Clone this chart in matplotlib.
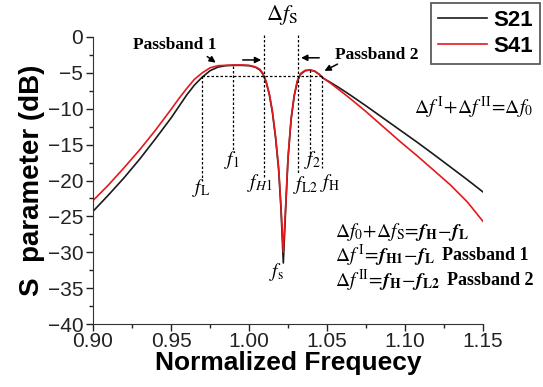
import numpy as np
import matplotlib.pyplot as plt

plt.rcParams['font.family'] = ['Liberation Sans', 'DejaVu Sans']
plt.rcParams['mathtext.fontset'] = 'stix'

# curves
freq_s21 = [0.900, 0.910, 0.920, 0.930, 0.940, 0.950, 0.955, 0.960, 0.965, 0.970,
            0.975, 0.980, 0.985, 0.990, 0.995, 1.000, 1.004, 1.007, 1.009, 1.011,
            1.013, 1.015, 1.017, 1.019, 1.0205, 1.022, 1.0235, 1.025, 1.027, 1.029,
            1.031, 1.033, 1.036, 1.039, 1.042, 1.045, 1.048, 1.052, 1.058, 1.065,
            1.075, 1.086, 1.097, 1.108, 1.118, 1.129, 1.140, 1.150]
s21 = [-24.3, -22.0, -19.6, -17.0, -14.2, -11.3, -9.7, -8.1, -6.7, -5.6,
       -4.7, -4.2, -4.0, -3.95, -3.95, -4.0, -4.2, -4.6, -5.2, -6.3,
       -8.0, -10.5, -14.0, -18.5, -24.0, -31.5, -24.0, -17.0, -11.5, -8.2,
       -6.2, -5.2, -4.7, -4.6, -4.75, -5.2, -5.8, -6.3, -7.1, -8.1,
       -9.6, -11.3, -13.0, -14.7, -16.3, -18.1, -19.9, -21.6]

freq_s41 = [0.900, 0.910, 0.920, 0.930, 0.940, 0.950, 0.955, 0.960, 0.965, 0.970,
            0.975, 0.980, 0.985, 0.990, 0.995, 1.000, 1.004, 1.007, 1.009, 1.011,
            1.013, 1.015, 1.017, 1.019, 1.0205, 1.022, 1.0235, 1.025, 1.027, 1.029,
            1.031, 1.033, 1.036, 1.039, 1.042, 1.045, 1.048, 1.052, 1.058, 1.065,
            1.075, 1.086, 1.097, 1.108, 1.118, 1.129, 1.140, 1.150]
s41 = [-22.8, -20.6, -18.2, -15.7, -13.0, -10.1, -8.6, -7.2, -5.9, -5.0,
       -4.3, -4.0, -3.95, -3.9, -3.9, -3.95, -4.15, -4.5, -5.1, -6.2,
       -7.9, -10.3, -13.8, -18.2, -23.5, -30.0, -23.5, -16.8, -11.3, -8.1,
       -6.1, -5.1, -4.65, -4.6, -4.75, -5.2, -5.8, -6.4, -7.4, -8.6,
       -10.4, -12.5, -14.6, -16.6, -18.5, -20.6, -23.0, -25.7]

# marked frequencies
f_L, f_1, f_H1, f_L2, f_2, f_H = 0.970, 0.990, 1.0096, 1.0316, 1.039, 1.047
level_3db = -5.5

fig = plt.figure(figsize=(5.43, 3.87), dpi=100)
ax = fig.add_axes([93/543, 1-324/387, 390/543, 287/387])

ax.plot(freq_s21, s21, color='#1a1a1a', lw=1.2, label='S21')
ax.plot(freq_s41, s41, color='#e3191c', lw=1.2, label='S41')

dash = dict(color='black', lw=0.9, ls=(0, (2, 1.6)))
ax.plot([f_L, f_H], [level_3db, level_3db], **dash)
ax.plot([f_L, f_L], [level_3db, -20.0], **dash)
ax.plot([f_1, f_1], [-4.0, -16.0], **dash)
ax.plot([f_H1, f_H1], [0.3, -19.5], clip_on=False, **dash)
ax.plot([f_L2, f_L2], [0.3, -19.0], clip_on=False, **dash)
ax.plot([f_2, f_2], [-4.6, -16.4], **dash)
ax.plot([f_H, f_H], [level_3db, -18.3], **dash)

ax.set_xlim(0.90, 1.15)
ax.set_ylim(-40, 0)
ax.set_xticks(np.arange(0.90, 1.151, 0.05))
ax.set_xticks(np.arange(0.925, 1.15, 0.05), minor=True)
ax.set_yticks(np.arange(-40, 1, 5))
ax.set_yticks(np.arange(-37.5, 0, 5), minor=True)
ax.set_xticklabels(['0.90', '0.95', '1.00', '1.05', '1.10', '1.15'])
ax.tick_params(which='major', length=5, width=1, labelsize=15, colors='#222222')
ax.tick_params(which='minor', length=3, width=1, colors='#222222')
ax.tick_params(axis='x', pad=1)
ax.tick_params(axis='y', pad=2)
for s in ['top', 'right']:
    ax.spines[s].set_visible(False)
for s in ['left', 'bottom']:
    ax.spines[s].set_color('#333333')

ax.set_xlabel('Normalized Frequecy', fontsize=19, fontweight='bold', labelpad=0)
ax.set_ylabel('S  parameter (dB)', fontsize=20, fontweight='bold', labelpad=2)

leg = ax.legend(loc='upper right', bbox_to_anchor=(540/543, 1-3/387),
                bbox_transform=fig.transFigure, borderaxespad=0,
                prop={'weight': 'bold', 'size': 16}, handlelength=2.2,
                handletextpad=0.3, fancybox=False, frameon=True,
                labelspacing=0.25, borderpad=0.3)
leg.get_frame().set_edgecolor('#333333')
leg.get_frame().set_linewidth(1.3)

serif = ['Liberation Serif', 'DejaVu Serif']
arr = dict(arrowstyle='-|>', color='black', lw=1.1, mutation_scale=9)

ax.text(0.9526, -1.1, 'Passband 1', family=serif, fontweight='bold', fontsize=12.5,
        ha='center', va='center')
ax.annotate('', xy=(0.9801, -3.8), xytext=(0.9718, -2.5), arrowprops=arr)
ax.text(1.0551, -2.5, 'Passband 2', family=serif, fontweight='bold', fontsize=12.5,
        ha='left', va='center')
ax.annotate('', xy=(1.0468, -4.9), xytext=(1.0583, -3.6), arrowprops=arr)

ax.text(1.0212, 3.1, r'$\Delta f_{\mathrm{S}}$', fontsize=16, ha='center', va='center')
ax.annotate('', xy=(f_H1, -3.2), xytext=(0.9942, -3.2), arrowprops=arr,
            annotation_clip=False)
ax.annotate('', xy=(f_L2, -2.9), xytext=(1.0468, -2.9), arrowprops=arr,
            annotation_clip=False)

flab = dict(fontsize=14, ha='center', va='center')
ax.text(0.9695, -21.0, r'$f_{\mathrm{L}}$', **flab)
ax.text(0.9890, -17.1, r'$f_{1}$', **flab)
ax.text(1.0071, -20.4, r'$f_{H1}$', **flab)
ax.text(1.0362, -20.6, r'$f_{\mathrm{L2}}$', **flab)
ax.text(1.0404, -17.2, r'$f_{2}$', **flab)
ax.text(1.0519, -20.4, r'$f_{\mathrm{H}}$', **flab)
ax.text(1.0179, -32.8, r'$f_{\mathrm{s}}$', **flab)

ax.text(1.1436, -9.9, r'$\Delta f^{\,\mathrm{I}}\!+\!\Delta f^{\,\mathrm{II}}\!=\!\Delta f_0$',
        fontsize=14, ha='center', va='center', clip_on=False)

eq = dict(fontsize=14, ha='left', va='center', clip_on=False)
ax.text(1.0551, -27.2,
        r'$\Delta f_0\!+\!\Delta f_{\mathrm{S}}\!=\!\mathbfit{f}_{\mathbf{H}}\!-\!\mathbfit{f}_{\mathbf{L}}$',
        **eq)
t2 = ax.text(1.0551, -30.5,
             r'$\Delta f^{\,\mathrm{I}}\!=\!\mathbfit{f}_{\mathbf{H1}}\!-\!\mathbfit{f}_{\mathbf{L}}$',
             **eq)
t3 = ax.text(1.0551, -34.0,
             r'$\Delta f^{\,\mathrm{II}}\!=\!\mathbfit{f}_{\mathbf{H}}\!-\!\mathbfit{f}_{\mathbf{L2}}$',
             **eq)
for t, name in [(t2, 'Passband 1'), (t3, 'Passband 2')]:
    ax.annotate(name, xy=(1, 0.5), xycoords=t, xytext=(5, 0),
                textcoords='offset points', family=serif, fontweight='bold',
                fontsize=13, ha='left', va='center', annotation_clip=False)

fig.savefig('out.png', dpi=100)
